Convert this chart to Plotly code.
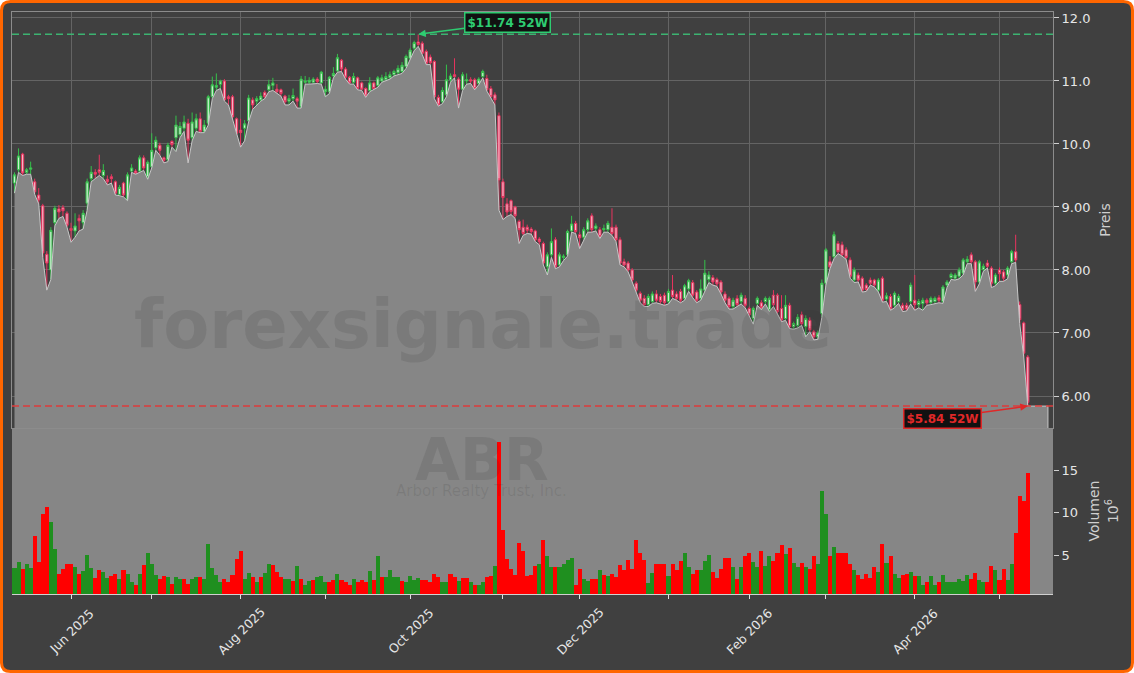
import plotly.graph_objects as go

# ---------------- data ----------------
opens = [
    9.38, 9.59, 9.84, 9.55, 9.60, 9.40, 9.19, 9.02, 8.25, 8.00,
    8.75, 8.97, 8.99, 8.90, 8.66, 8.62, 8.82, 8.75, 9.06, 9.45,
    9.55, 9.59, 9.50, 9.44, 9.48, 9.40, 9.20, 9.38, 9.11, 9.57,
    9.57, 9.57, 9.78, 9.48, 9.64, 9.94, 9.98, 9.78, 9.75, 10.04,
    10.10, 10.15, 10.25, 10.33, 10.10, 10.25, 10.40, 10.20, 10.33, 10.75,
    10.90, 10.95, 11.00, 10.75, 10.75, 10.40, 10.22, 10.25, 10.37, 10.70,
    10.68, 10.70, 10.82, 10.86, 10.93, 10.87, 10.86, 10.76, 10.68, 10.72,
    10.72, 10.59, 10.98, 10.98, 10.98, 11.03, 10.97, 10.83, 10.83, 11.08,
    11.16, 11.33, 11.19, 11.06, 10.98, 11.05, 10.97, 10.88, 10.85, 10.97,
    10.93, 11.00, 11.02, 11.05, 11.10, 11.13, 11.15, 11.23, 11.36, 11.52,
    11.62, 11.60, 11.47, 11.38, 11.31, 10.74, 10.67, 10.78, 11.02, 11.10,
    11.03, 10.87, 11.00, 11.02, 11.02, 10.96, 11.07, 11.04, 10.88, 10.78,
    10.45, 9.40, 9.05, 9.10, 9.00, 8.77, 8.68, 8.68, 8.65, 8.62,
    8.49, 8.42, 8.05, 8.24, 8.48, 8.08, 8.20, 8.24, 8.62, 8.74,
    8.56, 8.52, 8.64, 8.86, 8.66, 8.64, 8.64, 8.64, 8.68, 8.68,
    8.48, 8.13, 8.11, 8.00, 7.79, 7.63, 7.55, 7.45, 7.50, 7.62,
    7.58, 7.60, 7.50, 7.68, 7.62, 7.66, 7.55, 7.70, 7.80, 7.65,
    7.55, 7.68, 7.85, 7.88, 7.85, 7.81, 7.62, 7.55, 7.42, 7.55,
    7.50, 7.55, 7.39, 7.23, 7.47, 7.48, 7.50, 7.37, 7.60, 7.60,
    7.39, 7.23, 7.44, 7.10, 7.12, 7.29, 7.10, 7.20, 7.02, 6.94,
    7.31, 7.79, 8.13, 8.21, 8.42, 8.40, 8.32, 8.16, 7.84, 7.92,
    7.87, 7.76, 7.84, 7.84, 7.68, 7.87, 7.54, 7.58, 7.44, 7.50,
    7.44, 7.44, 7.50, 7.52, 7.45, 7.47, 7.52, 7.48, 7.50, 7.56,
    7.50, 7.76, 7.88, 7.87, 7.90, 7.95, 8.13, 8.24, 8.13, 7.81,
    8.01, 8.11, 8.03, 7.79, 8.00, 7.97, 7.92, 8.13, 8.29, 7.45,
    7.16, 6.62,
]
highs = [
    9.55, 9.93, 9.86, 9.62, 9.72, 9.45, 9.30, 9.05, 8.30, 8.68,
    9.02, 9.03, 9.03, 8.93, 8.75, 8.90, 8.88, 8.95, 9.45, 9.65,
    9.60, 9.83, 9.68, 9.50, 9.52, 9.42, 9.35, 9.40, 9.55, 9.68,
    9.60, 9.82, 9.82, 9.74, 10.17, 10.12, 10.02, 9.80, 10.02, 10.06,
    10.45, 10.35, 10.45, 10.40, 10.50, 10.48, 10.50, 10.38, 10.78, 11.07,
    11.12, 11.02, 11.03, 10.78, 10.78, 10.42, 10.40, 10.38, 10.78, 10.74,
    10.76, 10.82, 10.85, 11.02, 11.05, 10.95, 10.88, 10.78, 10.78, 10.88,
    10.75, 11.08, 11.08, 11.06, 11.06, 11.06, 11.16, 10.92, 11.08, 11.22,
    11.43, 11.35, 11.22, 11.08, 11.13, 11.07, 10.99, 10.90, 11.06, 10.99,
    11.08, 11.10, 11.14, 11.15, 11.18, 11.25, 11.30, 11.42, 11.52, 11.64,
    11.74, 11.63, 11.50, 11.42, 11.33, 10.78, 10.90, 11.26, 11.12, 11.36,
    11.06, 11.14, 11.12, 11.06, 11.05, 11.06, 11.18, 11.10, 10.92, 10.82,
    10.50, 9.45, 9.14, 9.12, 9.02, 8.80, 8.80, 8.72, 8.68, 8.64,
    8.52, 8.45, 8.28, 8.66, 8.52, 8.28, 8.25, 8.64, 8.86, 8.78,
    8.60, 8.68, 8.82, 8.90, 8.74, 8.68, 8.72, 8.78, 8.98, 8.72,
    8.52, 8.18, 8.14, 8.03, 7.82, 7.66, 7.60, 7.62, 7.66, 7.68,
    7.62, 7.64, 7.70, 7.92, 7.66, 7.70, 7.78, 7.86, 7.84, 7.68,
    7.85, 8.16, 7.98, 7.92, 7.88, 7.84, 7.66, 7.58, 7.56, 7.60,
    7.64, 7.60, 7.42, 7.42, 7.58, 7.52, 7.58, 7.58, 7.68, 7.63,
    7.60, 7.60, 7.48, 7.18, 7.30, 7.34, 7.28, 7.25, 7.05, 7.04,
    7.85, 8.35, 8.22, 8.61, 8.46, 8.45, 8.36, 8.20, 8.04, 7.96,
    7.90, 7.79, 7.88, 7.86, 7.87, 7.90, 7.64, 7.62, 7.66, 7.62,
    7.48, 7.48, 7.80, 7.92, 7.54, 7.56, 7.55, 7.58, 7.58, 7.60,
    7.76, 7.84, 7.96, 7.95, 8.04, 8.19, 8.22, 8.28, 8.16, 8.16,
    8.10, 8.16, 8.06, 7.95, 8.04, 8.00, 8.06, 8.32, 8.56, 7.50,
    7.18, 6.65,
]
lows = [
    9.22, 9.55, 9.50, 9.52, 9.52, 9.20, 9.05, 8.20, 7.68, 7.85,
    8.70, 8.82, 8.85, 8.68, 8.44, 8.52, 8.62, 8.65, 8.95, 9.40,
    9.45, 9.50, 9.45, 9.35, 9.38, 9.19, 9.18, 9.16, 9.10, 9.55,
    9.52, 9.55, 9.58, 9.44, 9.62, 9.90, 9.82, 9.70, 9.72, 9.95,
    9.88, 10.10, 10.20, 9.70, 10.05, 10.20, 10.18, 10.18, 10.30, 10.72,
    10.85, 10.88, 10.68, 10.62, 10.40, 10.15, 9.95, 10.05, 10.35, 10.55,
    10.62, 10.68, 10.72, 10.83, 10.85, 10.80, 10.76, 10.62, 10.62, 10.68,
    10.57, 10.57, 10.95, 10.95, 10.96, 10.96, 10.95, 10.75, 10.80, 11.05,
    11.14, 11.15, 11.03, 10.95, 10.95, 10.86, 10.85, 10.74, 10.83, 10.86,
    10.90, 10.98, 11.00, 11.03, 11.08, 11.10, 11.12, 11.20, 11.33, 11.48,
    11.55, 11.42, 11.26, 11.26, 10.72, 10.60, 10.64, 10.75, 10.98, 11.05,
    10.57, 10.85, 10.95, 10.96, 10.86, 10.94, 11.05, 10.84, 10.73, 10.62,
    8.95, 8.80, 8.85, 8.88, 8.82, 8.42, 8.55, 8.58, 8.57, 8.45,
    8.40, 8.08, 7.92, 8.20, 8.02, 8.05, 8.15, 8.22, 8.60, 8.58,
    8.34, 8.48, 8.60, 8.60, 8.62, 8.50, 8.60, 8.60, 8.55, 8.45,
    8.08, 8.05, 7.97, 7.81, 7.65, 7.48, 7.42, 7.42, 7.47, 7.48,
    7.46, 7.44, 7.46, 7.55, 7.52, 7.48, 7.52, 7.66, 7.56, 7.48,
    7.52, 7.65, 7.80, 7.76, 7.74, 7.62, 7.48, 7.38, 7.38, 7.42,
    7.46, 7.40, 7.26, 7.14, 7.44, 7.37, 7.46, 7.34, 7.42, 7.31,
    7.18, 7.20, 7.07, 7.06, 7.08, 7.12, 6.94, 7.02, 6.89, 6.90,
    7.25, 7.76, 8.02, 8.18, 8.26, 8.22, 8.17, 7.87, 7.80, 7.81,
    7.65, 7.66, 7.76, 7.73, 7.65, 7.49, 7.50, 7.36, 7.40, 7.47,
    7.34, 7.35, 7.46, 7.36, 7.40, 7.36, 7.44, 7.45, 7.46, 7.48,
    7.47, 7.72, 7.85, 7.84, 7.86, 7.92, 8.10, 8.10, 7.66, 7.78,
    7.98, 8.03, 7.72, 7.75, 7.82, 7.82, 7.86, 8.10, 8.12, 7.15,
    6.62, 5.84,
]
closes = [
    9.51, 9.81, 9.54, 9.59, 9.62, 9.24, 9.11, 8.27, 8.11, 8.63,
    8.98, 8.92, 8.94, 8.71, 8.63, 8.70, 8.78, 8.90, 9.40, 9.55,
    9.52, 9.55, 9.58, 9.40, 9.45, 9.22, 9.31, 9.19, 9.51, 9.62,
    9.53, 9.78, 9.62, 9.71, 9.90, 10.06, 9.90, 9.74, 9.98, 9.99,
    10.30, 10.28, 10.35, 10.06, 10.35, 10.40, 10.20, 10.30, 10.75, 10.94,
    10.93, 11.00, 10.70, 10.72, 10.43, 10.17, 10.18, 10.32, 10.73, 10.62,
    10.72, 10.76, 10.75, 10.94, 10.97, 10.83, 10.80, 10.67, 10.72, 10.77,
    10.68, 11.03, 11.00, 11.01, 11.03, 10.99, 11.14, 10.87, 11.06, 11.12,
    11.37, 11.19, 11.06, 10.97, 11.07, 10.88, 10.87, 10.76, 10.97, 10.88,
    11.05, 11.05, 11.07, 11.10, 11.15, 11.20, 11.25, 11.39, 11.49, 11.61,
    11.58, 11.44, 11.28, 11.29, 10.75, 10.62, 10.85, 11.02, 11.08, 11.07,
    10.87, 11.10, 11.02, 11.00, 10.88, 11.03, 11.15, 10.86, 10.75, 10.70,
    9.43, 9.15, 8.92, 8.93, 8.86, 8.64, 8.58, 8.63, 8.61, 8.48,
    8.45, 8.11, 8.24, 8.45, 8.05, 8.24, 8.22, 8.61, 8.73, 8.61,
    8.51, 8.64, 8.78, 8.64, 8.70, 8.53, 8.66, 8.74, 8.58, 8.48,
    8.11, 8.08, 8.00, 7.84, 7.68, 7.52, 7.45, 7.58, 7.62, 7.52,
    7.50, 7.48, 7.66, 7.58, 7.55, 7.52, 7.75, 7.83, 7.60, 7.52,
    7.70, 7.95, 7.92, 7.81, 7.78, 7.65, 7.52, 7.42, 7.52, 7.45,
    7.60, 7.44, 7.29, 7.39, 7.55, 7.40, 7.55, 7.55, 7.45, 7.34,
    7.21, 7.44, 7.10, 7.15, 7.25, 7.15, 7.23, 7.05, 6.94, 7.00,
    7.79, 8.32, 8.05, 8.56, 8.29, 8.24, 8.20, 7.90, 8.00, 7.84,
    7.68, 7.69, 7.79, 7.76, 7.84, 7.52, 7.59, 7.39, 7.63, 7.58,
    7.37, 7.38, 7.76, 7.45, 7.50, 7.52, 7.48, 7.55, 7.55, 7.52,
    7.73, 7.81, 7.93, 7.92, 8.00, 8.16, 8.17, 8.13, 7.81, 8.13,
    8.06, 8.06, 7.79, 7.92, 7.94, 7.87, 8.03, 8.29, 8.16, 7.21,
    6.68, 5.90,
]
# volume in millions of shares
volumes = [
    3.6, 4.3, 3.5, 4.1, 3.6, 7.3, 4.3, 9.9, 10.7, 8.9,
    5.8, 2.9, 3.5, 4.1, 4.1, 3.7, 2.9, 3.2, 5.1, 3.6,
    2.4, 3.4, 3.1, 2.4, 2.6, 2.9, 2.3, 3.4, 2.9, 1.9,
    1.6, 2.9, 3.9, 5.3, 4.1, 2.8, 2.3, 2.6, 2.5, 1.7,
    2.5, 2.3, 2.3, 1.7, 2.3, 2.5, 2.5, 2.3, 6.4, 3.6,
    2.8, 1.9, 2.3, 1.9, 2.8, 4.6, 5.6, 2.3, 3.0, 2.5,
    2.0, 2.5, 3.0, 4.1, 3.9, 3.1, 2.5, 2.3, 2.3, 2.1,
    3.8, 2.3, 1.6, 2.1, 2.2, 2.5, 2.7, 1.9, 1.9, 2.2,
    2.9, 2.2, 1.9, 1.6, 2.3, 2.0, 2.2, 2.0, 3.2, 2.2,
    5.0, 2.5, 2.5, 3.4, 2.5, 2.5, 2.1, 2.0, 2.7, 2.2,
    2.4, 2.2, 2.2, 2.0, 2.9, 2.5, 2.0, 2.0, 2.9, 2.5,
    2.1, 2.4, 2.4, 1.9, 1.6, 1.6, 1.9, 2.5, 2.6, 3.8,
    18.3, 8.0, 4.6, 3.5, 2.8, 6.5, 5.6, 2.6, 2.8, 3.8,
    4.1, 6.8, 5.0, 3.7, 3.7, 3.7, 4.0, 4.5, 4.8, 1.6,
    3.5, 2.3, 2.1, 2.3, 2.3, 3.4, 2.8, 2.7, 2.9, 2.5,
    3.9, 3.3, 4.5, 3.5, 6.8, 5.3, 4.5, 1.8, 3.0, 4.1,
    4.0, 4.1, 2.7, 4.1, 3.4, 4.4, 5.3, 3.7, 2.9, 3.3,
    3.4, 4.4, 5.1, 3.1, 2.4, 3.5, 4.7, 4.8, 3.7, 2.3,
    3.7, 5.0, 5.3, 4.3, 3.7, 5.6, 3.8, 5.0, 4.4, 5.3,
    6.3, 5.2, 5.9, 4.2, 3.7, 4.2, 3.7, 3.5, 5.0, 4.1,
    12.5, 9.9, 5.0, 6.0, 5.3, 5.3, 5.3, 4.1, 3.3, 2.8,
    2.3, 2.9, 2.4, 3.7, 3.1, 6.4, 4.2, 5.0, 2.9, 2.4,
    2.8, 2.9, 3.1, 2.6, 2.6, 1.6, 2.0, 2.7, 1.6, 2.0,
    2.8, 2.0, 1.9, 2.0, 2.3, 2.1, 2.8, 2.3, 3.0, 2.2,
    1.9, 2.0, 3.8, 3.3, 2.2, 3.5, 2.2, 4.1, 7.7, 12.0,
    11.4, 14.6,
]
# G = up day, R = down day (colour of volume bar)
vol_dirs = (
    "GGRGGRRRRG" "GRRRRGRGGG" "RRGGRRGRGG" "RGRGGGRRGR" "GGRRGGRGGG"
    "GGRRRRRGGR" "GRGGRRRGGR" "GRGGRGGGRR" "GRRRGRRRGR" "GRGGGGRGGG"
    "GRRRRRGGRR" "GRRGRGGRRG" "RRRRRRRRRR" "GRGGRGGGGR" "RGGRRGRGRR"
    "RRRRRRRGGR" "RRGRRRGGRR" "GGGRRRRRGR" "GRRGGRGGRR" "RGRGGRGRRG"
    "GGRGRRRRGR" "RRRRGRGRGG" "RRGRGGRGGR" "GGGGGGGRRG" "GRRGRRGGRR"
    "RR"
)
month_ticks = [14, 34, 56, 77, 98, 121, 140, 162, 182, 201, 223, 244]
month_labels = ["Jun 2025", "", "Aug 2025", "", "Oct 2025", "", "Dec 2025", "",
                "Feb 2026", "", "Apr 2026", ""]
price_ticks = [6, 7, 8, 9, 10, 11, 12]
price_tick_labels = ["6.00", "7.00", "8.00", "9.00", "10.0", "11.0", "12.0"]
vol_ticks = [5, 10, 15]
ticker = "ABR"
company = "Arbor Realty Trust, Inc."
watermark = "forexsignale.trade"

# ---------------- layout geometry ----------------
W, H = 1134, 673
ML, MR, MT, MB = 12, 81, 12, 79
PW, PH = W - ML - MR, H - MT - MB
SPLIT = 166 / PH
FONT = "DejaVu Sans"
DARK = "#404040"
GRAYFILL = "#868686"
TXT = "#e6e6e6"


def paper(px, py):
    return (px - ML) / PW, (H - MB - py) / PH


def P(px, py):
    x, y = paper(px, py)
    return f"{x:.5f},{y:.5f}"


N = len(closes)
idx = list(range(N))
PAD = 5
hi_val = max(highs)
lo_val = min(lows)
hi_i = highs.index(hi_val)
lo_i = lows.index(lo_val)

area_x = idx + [N - 1 + k for k in range(1, PAD + 1)] + [N - 1 + PAD, 0]
area_y = lows + [lows[-1]] * PAD + [0, 0]

fig = go.Figure()
fig.add_trace(go.Scatter(
    x=area_x, y=area_y, fill="toself", fillcolor=GRAYFILL, mode="lines",
    line=dict(color="#c8c8c8", width=1), hoverinfo="skip", showlegend=False,
    xaxis="x", yaxis="y"))
fig.add_trace(go.Candlestick(
    x=idx, open=opens, high=highs, low=lows, close=closes,
    increasing=dict(line=dict(color="#34c04a", width=1), fillcolor="#cdeed2"),
    decreasing=dict(line=dict(color="#e8335e", width=1), fillcolor="#f5b3c3"),
    whiskerwidth=0, showlegend=False, xaxis="x", yaxis="y"))
fig.add_trace(go.Bar(
    x=idx, y=volumes, width=1.0,
    marker=dict(color=["#1f8f1f" if d == "G" else "#ff0000" for d in vol_dirs],
                line=dict(width=0)),
    showlegend=False, xaxis="x2", yaxis="y2"))

# rounded orange frame
r = 9
x0, y0, x1, y1 = 1.5, 1.5, W - 1.5, H - 1.5
frame = (f"M {P(x0 + r, y0)} L {P(x1 - r, y0)} Q {P(x1, y0)} {P(x1, y0 + r)} "
         f"L {P(x1, y1 - r)} Q {P(x1, y1)} {P(x1 - r, y1)} L {P(x0 + r, y1)} "
         f"Q {P(x0, y1)} {P(x0, y1 - r)} L {P(x0, y0 + r)} Q {P(x0, y0)} {P(x0 + r, y0)} Z")
shapes = [
    dict(type="path", path=frame, xref="paper", yref="paper", fillcolor=DARK,
         line=dict(color="#ff6600", width=3), layer="below"),
    dict(type="rect", xref="paper", yref="paper", x0=0, x1=1, y0=0, y1=SPLIT,
         fillcolor=GRAYFILL, line=dict(width=0), layer="below"),
    dict(type="line", xref="paper", yref="y", x0=0, x1=1, y0=hi_val, y1=hi_val,
         line=dict(color="#3cb371", width=1.5, dash="7px,4px"), layer="above"),
    dict(type="line", xref="paper", yref="y", x0=0, x1=1, y0=lo_val, y1=lo_val,
         line=dict(color="#dd3b3b", width=1.5, dash="7px,4px"), layer="above"),
]

annotations = []
wx, wy = paper(483, 325)
annotations.append(dict(text=f"<b>{watermark}</b>", xref="paper", yref="paper", x=wx, y=wy,
                        xanchor="center", yanchor="middle", showarrow=False,
                        font=dict(family=FONT, size=67, color="rgba(40,40,40,0.12)")))
ax_, ay_ = paper(482, 460)
annotations.append(dict(text=f"<b>{ticker}</b>", xref="paper", yref="paper", x=ax_, y=ay_,
                        xanchor="center", yanchor="middle", showarrow=False,
                        font=dict(family=FONT, size=58, color="rgba(40,40,40,0.12)")))
cx, cy = paper(481, 491)
annotations.append(dict(text=company, xref="paper", yref="paper", x=cx, y=cy,
                        xanchor="center", yanchor="middle", showarrow=False,
                        font=dict(family=FONT, size=15, color="rgba(40,40,40,0.12)")))

annotations.append(dict(
    x=hi_i, y=hi_val, xref="x", yref="y", text=f"<b>${hi_val:.2f} 52W</b>",
    showarrow=True, arrowhead=2, arrowsize=1, arrowwidth=1.5, arrowcolor="#2ecc71",
    ax=89, ay=-12, font=dict(family=FONT, size=12, color="#2ecc71"),
    bgcolor="#111111", bordercolor="#2ecc71", borderwidth=1.5, borderpad=2))
annotations.append(dict(
    x=lo_i, y=lo_val, xref="x", yref="y", text=f"<b>${lo_val:.2f} 52W</b>",
    showarrow=True, arrowhead=2, arrowsize=1, arrowwidth=1.5, arrowcolor="#e02828",
    ax=-85, ay=12, font=dict(family=FONT, size=12, color="#e02828"),
    bgcolor="#111111", bordercolor="#e02828", borderwidth=1.5, borderpad=2))

for tv, tl in zip(month_ticks, month_labels):
    if tl:
        annotations.append(dict(x=tv, y=0, xref="x2", yref="paper", yshift=-37,
                                xanchor="center", yanchor="middle",
                                text=tl, textangle=-45, showarrow=False,
                                font=dict(family=FONT, size=12.5, color=TXT)))

xr = [-0.62, 257.25]

fig.update_layout(
    width=W, height=H,
    margin=dict(l=ML, r=MR, t=MT, b=MB),
    paper_bgcolor="white", plot_bgcolor="rgba(0,0,0,0)",
    font=dict(family=FONT, color=TXT),
    showlegend=False, bargap=0, boxgap=0.2,
    shapes=shapes, annotations=annotations,
    xaxis=dict(domain=[0, 1], anchor="y", range=xr, tickvals=month_ticks,
               showticklabels=False, ticks="", showgrid=True, gridcolor="#646464",
               gridwidth=1, zeroline=False, showline=True, linecolor="#8c8c8c",
               mirror=True, rangeslider=dict(visible=False)),
    yaxis=dict(domain=[SPLIT, 1], anchor="x", side="right", range=[5.492, 12.095],
               tickvals=price_ticks, ticktext=price_tick_labels, ticks="outside",
               ticklen=5, tickcolor="#d0d0d0", tickfont=dict(size=13, color=TXT),
               showgrid=True, gridcolor="#646464", zeroline=False, showline=True,
               linecolor="#8c8c8c", mirror=True,
               title=dict(text="Preis", font=dict(size=14, color="#cfcfcf"), standoff=10)),
    xaxis2=dict(domain=[0, 1], anchor="y2", matches="x", range=xr, tickvals=month_ticks,
                showticklabels=False, ticks="outside", ticklen=4, tickcolor="#e0e0e0",
                showgrid=False, zeroline=False, showline=True, linecolor="#d0d0d0"),
    yaxis2=dict(domain=[0, SPLIT], anchor="x2", side="right", range=[0.55, 19.9],
                tickvals=vol_ticks, ticks="outside", ticklen=5, tickcolor="#d0d0d0",
                tickfont=dict(size=13, color=TXT), showgrid=False, zeroline=False,
                showline=False,
                title=dict(text="Volumen<br>10<sup>6</sup>", font=dict(size=14, color="#cfcfcf"),
                           standoff=12)),
)

fig.write_html("out.html", config={"displayModeBar": False},
               post_script="document.body.style.margin='0';document.body.style.padding='0';")
